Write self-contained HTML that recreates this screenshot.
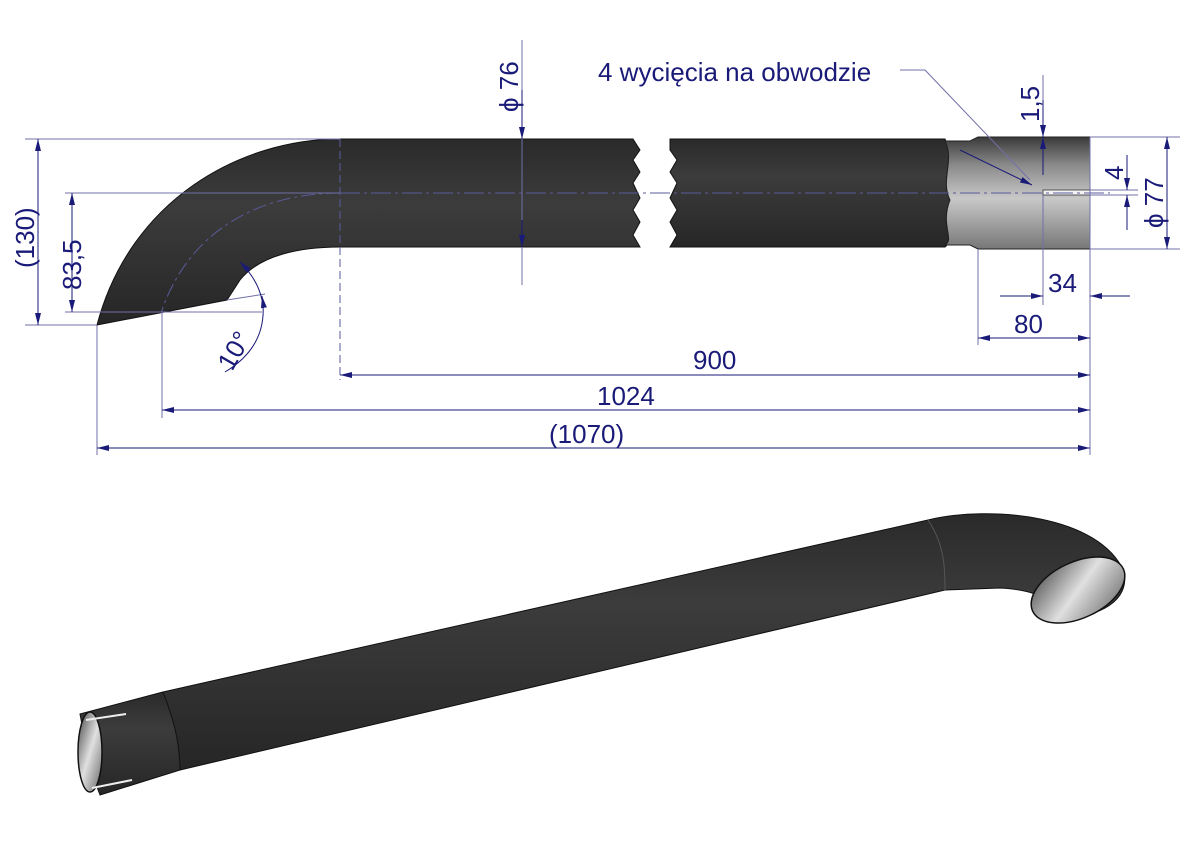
<!DOCTYPE html>
<html><head><meta charset="utf-8"><style>
body{margin:0;background:#fff}
svg{display:block}
text{font-family:"Liberation Sans",sans-serif;fill:#1a1a78;font-size:26px}
</style></head><body>
<svg width="1191" height="842" viewBox="0 0 1191 842">
<defs>
<linearGradient id="dk" x1="0" y1="0" x2="0" y2="1">
<stop offset="0" stop-color="#2a2a2a"/><stop offset="0.35" stop-color="#3c3c3c"/><stop offset="1" stop-color="#262626"/>
</linearGradient>
<linearGradient id="sl" x1="0" y1="0" x2="0" y2="1">
<stop offset="0" stop-color="#3a3a3a"/><stop offset="0.25" stop-color="#8a8a8a"/><stop offset="0.55" stop-color="#c8c8c8"/><stop offset="1" stop-color="#777"/>
</linearGradient>
<linearGradient id="op" x1="0" y1="0" x2="1" y2="1">
<stop offset="0" stop-color="#444"/><stop offset="0.5" stop-color="#e0e0e0"/><stop offset="1" stop-color="#666"/>
</linearGradient>
<marker id="a" markerWidth="12" markerHeight="6" refX="12" refY="3" orient="auto" markerUnits="userSpaceOnUse"><path d="M0,0 L12,3 L0,6z" fill="#1a1a78"/></marker>
</defs>
<path d="M340,139 L633,139 L640,150 L633,160 L640,172 L633,183 L640,198 L633,210 L640,222 L633,235 L640,247 L340,247 C300,247 260,255 240,280 L227,300 L97,325 C130,200 240,139 340,139Z" fill="url(#dk)" stroke="#111" stroke-width="1"/>
<path d="M670,139 L945,139 C955,160 940,180 950,200 C940,225 955,240 945,247 L670,247 L677,235 L670,222 L677,210 L670,198 L677,183 L670,172 L677,160 L670,150Z" fill="url(#dk)" stroke="#111"/>
<path d="M945,141 L970,141 L978,137 L1090,137 L1090,249 L978,249 L970,245 L945,245 C955,240 940,225 950,200 C940,180 955,160 945,141Z" fill="url(#sl)" stroke="#222"/>
<rect x="1043" y="190" width="47" height="5" fill="#f4f4f4" stroke="#333" stroke-width="0.8"/>
<g stroke="#5a5a9a" stroke-width="1" fill="none">
<line x1="340" y1="193" x2="1110" y2="193" stroke-dasharray="20,4,3,4"/>
<path d="M340,193 C260,193 190,230 162,310" stroke-dasharray="14,4,3,4"/>
<line x1="340" y1="139" x2="340" y2="380" stroke-dasharray="8,4"/>
</g>
<g stroke="#7070a8" stroke-width="1">
<line x1="25" y1="139" x2="340" y2="139"/>
<line x1="25" y1="325" x2="97" y2="325"/>
<line x1="65" y1="193" x2="340" y2="193"/>
<line x1="65" y1="312" x2="262" y2="312"/>
<line x1="97" y1="325" x2="97" y2="455"/>
<line x1="162" y1="310" x2="162" y2="418"/>
<line x1="1090" y1="137" x2="1090" y2="455"/>
<line x1="978" y1="249" x2="978" y2="345"/>
<line x1="1043" y1="195" x2="1043" y2="305"/>
<line x1="1090" y1="137" x2="1180" y2="137"/>
<line x1="1090" y1="249" x2="1180" y2="249"/>
<line x1="1090" y1="190" x2="1138" y2="190"/>
<line x1="1090" y1="195" x2="1138" y2="195"/>
<line x1="522" y1="40" x2="522" y2="285"/>
<line x1="1043" y1="75" x2="1043" y2="137"/>
<line x1="900" y1="70" x2="925" y2="70"/>
<line x1="925" y1="70" x2="1030" y2="180"/>
<line x1="227" y1="300" x2="265" y2="294"/>
</g>
<g stroke="#1a1a78" stroke-width="1" fill="none" marker-end="url(#a)">
<line x1="38" y1="232" x2="38" y2="139"/><line x1="38" y1="232" x2="38" y2="325"/>
<line x1="72" y1="252" x2="72" y2="193"/><line x1="72" y1="252" x2="72" y2="312"/>
<line x1="700" y1="375" x2="340" y2="375"/><line x1="700" y1="375" x2="1090" y2="375"/>
<line x1="600" y1="410" x2="162" y2="410"/><line x1="600" y1="410" x2="1090" y2="410"/>
<line x1="600" y1="448" x2="97" y2="448"/><line x1="600" y1="448" x2="1090" y2="448"/>
<line x1="1030" y1="338" x2="978" y2="338"/><line x1="1030" y1="338" x2="1090" y2="338"/>
<line x1="1000" y1="296" x2="1043" y2="296"/><line x1="1130" y1="296" x2="1090" y2="296"/>
<line x1="1167" y1="193" x2="1167" y2="137"/><line x1="1167" y1="193" x2="1167" y2="249"/>
<line x1="1127" y1="155" x2="1127" y2="190"/><line x1="1127" y1="230" x2="1127" y2="195"/>
<line x1="522" y1="90" x2="522" y2="139"/><line x1="522" y1="220" x2="522" y2="247"/>
<line x1="1043" y1="100" x2="1043" y2="137"/><line x1="1043" y1="175" x2="1043" y2="137"/>
<line x1="960" y1="150" x2="1032" y2="185"/>
<path d="M225,372 Q270,345 262,296"/><path d="M262,300 Q258,280 240,262"/>
</g>
<text x="0" y="0" transform="translate(34,268) rotate(-90)">(130)</text>
<text x="0" y="0" transform="translate(81,290) rotate(-90)">83,5</text>
<text x="0" y="0" transform="translate(232,372) rotate(-60)">10°</text>
<text x="693" y="369">900</text>
<text x="597" y="405">1024</text>
<text x="549" y="443">(1070)</text>
<text x="1014" y="333">80</text>
<text x="1048" y="292">34</text>
<text x="0" y="0" transform="translate(1163,228) rotate(-90)">ϕ 77</text>
<text x="0" y="0" transform="translate(1123,180) rotate(-90)">4</text>
<text x="0" y="0" transform="translate(1039,122) rotate(-90)">1,5</text>
<text x="0" y="0" transform="translate(518,112) rotate(-90)">ϕ 76</text>
<text x="598" y="81">4 wycięcia na obwodzie</text>
<path d="M163,692 L928,520 C990,505 1100,515 1124,572 C1130,600 1100,618 1060,618 C1050,600 1040,590 1000,588 L945,590 L180,770Z" fill="url(#dk)" stroke="#111"/>
<path d="M928,520 C945,545 945,570 945,590" fill="none" stroke="#555"/>
<ellipse cx="1078" cy="590" rx="50" ry="28" transform="rotate(-25 1078 590)" fill="url(#op)" stroke="#111" stroke-width="1.5"/>
<path d="M80,714 L163,692 C172,715 180,740 180,770 L100,795 C90,770 85,740 80,714Z" fill="url(#dk)" stroke="#111"/>
<ellipse cx="90" cy="752" rx="12" ry="40" fill="url(#op)" stroke="#111" stroke-width="1.5"/>
<line x1="86" y1="720" x2="126" y2="714" stroke="#eee" stroke-width="2"/>
<line x1="92" y1="788" x2="132" y2="780" stroke="#eee" stroke-width="2"/>
</svg>
</body></html>
